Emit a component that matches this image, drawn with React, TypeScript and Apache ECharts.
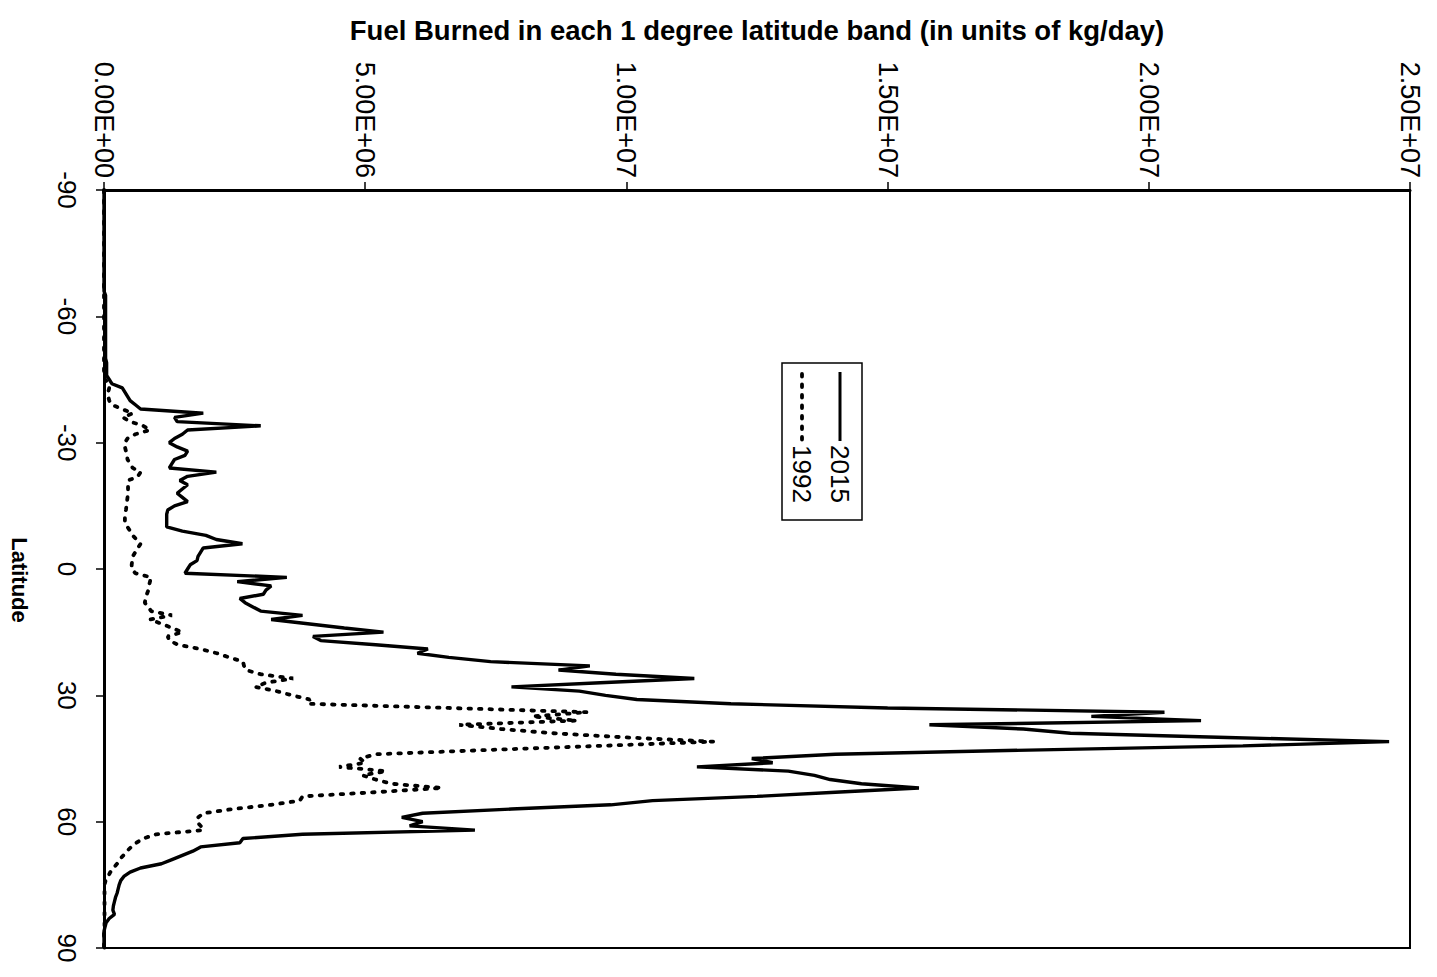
import React, { useEffect, useRef } from "react";
import * as echarts from "echarts";

const LATITUDES = [
  -90, -89, -88, -87, -86, -85, -84, -83, -82, -81,
  -80, -79, -78, -77, -76, -75, -74, -73, -72, -71,
  -70, -69, -68, -67, -66, -65, -64, -63, -62, -61,
  -60, -59, -58, -57, -56, -55, -54, -53, -52, -51,
  -50, -49, -48, -47, -46, -45, -44, -43, -42, -41,
  -40, -39, -38, -37, -36, -35, -34, -33, -32, -31,
  -30, -29, -28, -27, -26, -25, -24, -23, -22, -21,
  -20, -19, -18, -17, -16, -15, -14, -13, -12, -11,
  -10, -9, -8, -7, -6, -5, -4, -3, -2, -1,
  0, 1, 2, 3, 4, 5, 6, 7, 8, 9,
  10, 11, 12, 13, 14, 15, 16, 17, 18, 19,
  20, 21, 22, 23, 24, 25, 26, 27, 28, 29,
  30, 31, 32, 33, 34, 35, 36, 37, 38, 39,
  40, 41, 42, 43, 44, 45, 46, 47, 48, 49,
  50, 51, 52, 53, 54, 55, 56, 57, 58, 59,
  60, 61, 62, 63, 64, 65, 66, 67, 68, 69,
  70, 71, 72, 73, 74, 75, 76, 77, 78, 79,
  80, 81, 82, 83, 84, 85, 86, 87, 88, 89,
  90,
];

// Fuel burned, millions of kg/day, one value per latitude above
const FUEL_2015_MKG = [
  0, 0, 0, 0, 0, 0, 0, 0, 0, 0,
  0, 0, 0, 0, 0, 0, 0, 0, 0, 0,
  0, 0, 0, 0, 0, 0.03, 0.03, 0.03, 0.03, 0.03,
  0.03, 0.03, 0.03, 0.03, 0.03, 0.03, 0.03, 0.03, 0.03, 0.03,
  0.03, 0.05, 0.05, 0.05, 0.05, 0.1, 0.15, 0.35, 0.4, 0.45,
  0.5, 0.6, 0.7, 1.9, 1.35, 1.4, 3.0, 1.6, 1.5, 1.35,
  1.25, 1.4, 1.6, 1.55, 1.35, 1.3, 1.25, 2.15, 1.6, 1.45,
  1.6, 1.5, 1.4, 1.5, 1.6, 1.35, 1.22, 1.2, 1.2, 1.2,
  1.2, 1.5, 1.95, 2.15, 2.65, 1.9, 1.85, 1.8, 1.78, 1.65,
  1.6, 1.55, 3.5, 2.55, 3.2, 3.1, 3.05, 2.6, 2.7, 2.85,
  3.0, 3.8, 3.2, 3.9, 4.6, 5.35, 4.0, 4.15, 5.2, 6.2,
  6.0, 6.6, 7.4, 9.3, 8.7, 9.8, 11.3, 9.5, 7.8, 9.1,
  9.6, 10.2, 12.0, 15.0, 20.3, 18.9, 21.0, 15.8, 17.6, 18.5,
  21.5, 24.6, 21.8, 17.7, 14.0, 12.4, 12.8, 11.35, 13.1, 13.6,
  13.9, 14.5, 15.6, 14.0, 12.5, 10.5, 9.7, 7.8, 6.1, 5.7,
  6.1, 5.85, 7.1, 3.8, 2.66, 2.6, 1.85, 1.7, 1.5, 1.3,
  1.1, 0.7, 0.5, 0.38, 0.32, 0.29, 0.27, 0.25, 0.22, 0.2,
  0.18, 0.17, 0.2, 0.1, 0.04, 0.02, 0, 0, 0, 0,
  0,
];

const FUEL_1992_MKG = [
  0, 0, 0, 0, 0, 0, 0, 0, 0, 0,
  0, 0, 0, 0, 0, 0, 0, 0, 0, 0,
  0, 0, 0, 0, 0, 0, 0, 0, 0, 0,
  0, 0, 0, 0, 0, 0, 0, 0, 0, 0,
  0, 0, 0, 0, 0, 0.02, 0.08, 0.1, 0.08, 0.08,
  0.1, 0.15, 0.34, 0.55, 0.36, 0.5, 0.75, 0.88, 0.6, 0.45,
  0.4, 0.4, 0.42, 0.44, 0.45, 0.5, 0.55, 0.7, 0.65, 0.46,
  0.46, 0.46, 0.46, 0.45, 0.44, 0.43, 0.42, 0.4, 0.4, 0.4,
  0.45, 0.5, 0.55, 0.62, 0.7, 0.65, 0.6, 0.55, 0.54, 0.53,
  0.53, 0.6, 0.9, 0.88, 0.86, 0.85, 0.82, 0.8, 0.78, 0.85,
  0.9, 1.3, 0.88, 1.1, 1.3, 1.5, 1.22, 1.25, 1.42, 1.84,
  2.16, 2.4, 2.66, 2.68, 2.72, 3.0, 3.62, 3.1, 2.9, 3.3,
  3.6, 3.94, 3.9, 6.6, 9.25, 8.2, 9.05, 6.8, 7.6, 8.6,
  10.0, 11.66, 9.5, 7.3, 5.2, 4.9, 5.0, 4.5, 5.4, 4.95,
  5.2, 5.5, 6.47, 5.2, 3.8, 3.75, 3.2, 2.47, 1.9, 1.8,
  1.78, 1.85, 1.9, 1.0, 0.75, 0.62, 0.52, 0.44, 0.37, 0.3,
  0.25, 0.18, 0.12, 0.08, 0.03, 0.01, 0.01, 0.01, 0.01, 0.01,
  0.01, 0.01, 0.01, 0.01, 0.01, 0.01, 0, 0, 0, 0,
  0,
];

const SERIES_NAMES = ["2015", "1992"];
const FUEL_TICKS = { min: 0, max: 2.5e7, interval: 5e6 };
const LAT_TICKS = { min: -90, max: 90, interval: 30 };
const TITLE = "Fuel Burned in each 1 degree latitude band (in units of kg/day)";
const LAT_NAME = "Latitude";

const FONT = "'Liberation Sans', Arial, Helvetica, sans-serif";

function fmtE(v: number): string {
  const [m, e] = v.toExponential(2).split("e");
  const sign = e[0];
  const digits = e.slice(1).padStart(2, "0");
  return `${m}E${sign}${digits}`;
}

export default function App() {
  const ref = useRef<HTMLDivElement>(null);

  useEffect(() => {
    document.body.style.margin = "0";
    document.body.style.overflow = "hidden";
    if (!ref.current) return;
    const chart = echarts.init(ref.current, null, { renderer: "svg" });

    const d2015 = LATITUDES.map((lat, i) => [FUEL_2015_MKG[i] * 1e6, lat]);
    const d1992 = LATITUDES.map((lat, i) => [FUEL_1992_MKG[i] * 1e6, lat]);

    chart.setOption({
      animation: false,
      backgroundColor: "#fff",
      grid: {
        left: 104,
        right: 27,
        top: 190,
        bottom: 29,
        show: true,
        borderColor: "#000",
        borderWidth: 2,
      },
      xAxis: {
        type: "value",
        position: "top",
        min: FUEL_TICKS.min,
        max: FUEL_TICKS.max,
        interval: FUEL_TICKS.interval,
        name: TITLE,
        nameLocation: "middle",
        nameGap: 146,
        nameTextStyle: {
          fontFamily: FONT,
          fontSize: 27.5,
          fontWeight: "bold",
          color: "#000",
        },
        splitLine: { show: false },
        axisLine: { show: true, onZero: false, lineStyle: { color: "#000", width: 3 } },
        axisTick: { show: true, inside: false, length: 8, lineStyle: { color: "#000", width: 1.5 } },
        axisLabel: {
          // a top axis negates this, giving a clockwise quarter turn
          rotate: 90,
          margin: 12,
          formatter: (v: number) => fmtE(v),
          fontFamily: FONT,
          fontSize: 27,
          color: "#000",
        },
      },
      yAxis: {
        type: "value",
        inverse: true,
        min: LAT_TICKS.min,
        max: LAT_TICKS.max,
        interval: LAT_TICKS.interval,
        name: LAT_NAME,
        nameLocation: "middle",
        nameRotate: -90,
        nameGap: 74,
        nameTextStyle: {
          fontFamily: FONT,
          fontSize: 22,
          fontWeight: "bold",
          color: "#000",
          padding: [0, 0, 0, 22],
        },
        splitLine: { show: false },
        axisLine: { show: true, onZero: false, lineStyle: { color: "#000", width: 3 } },
        axisTick: { show: true, inside: false, length: 8, lineStyle: { color: "#000", width: 1.5 } },
        axisLabel: {
          rotate: -90,
          margin: 24,
          fontFamily: FONT,
          fontSize: 26,
          color: "#000",
        },
      },
      series: [
        {
          name: SERIES_NAMES[0],
          type: "line",
          data: d2015,
          symbol: "none",
          lineStyle: { color: "#000", width: 3.4, type: "solid" },
        },
        {
          name: SERIES_NAMES[1],
          type: "line",
          data: d1992,
          symbol: "none",
          lineStyle: { color: "#000", width: 3.8, type: [2.5, 8], cap: "round" },
        },
      ],
      graphic: [
        {
          type: "rect",
          shape: { x: 782, y: 363, width: 80, height: 157 },
          style: { fill: "#fff", stroke: "#000", lineWidth: 1.5 },
          z: 100,
        },
        {
          type: "line",
          shape: { x1: 840, y1: 372, x2: 840, y2: 441 },
          style: { stroke: "#000", lineWidth: 3 },
          z: 101,
        },
        {
          type: "line",
          shape: { x1: 802, y1: 374, x2: 802, y2: 441 },
          style: { stroke: "#000", lineWidth: 3.8, lineDash: [2.5, 8], lineCap: "round" },
          z: 101,
        },
        {
          type: "text",
          x: 840,
          y: 445,
          rotation: -Math.PI / 2,
          style: {
            text: SERIES_NAMES[0],
            font: `26px ${FONT}`,
            fill: "#000",
            align: "left",
            verticalAlign: "middle",
          },
          z: 101,
        },
        {
          type: "text",
          x: 802,
          y: 445,
          rotation: -Math.PI / 2,
          style: {
            text: SERIES_NAMES[1],
            font: `26px ${FONT}`,
            fill: "#000",
            align: "left",
            verticalAlign: "middle",
          },
          z: 101,
        },
      ],
    });

    return () => chart.dispose();
  }, []);

  return <div ref={ref} style={{ width: 1437, height: 977 }} />;
}
